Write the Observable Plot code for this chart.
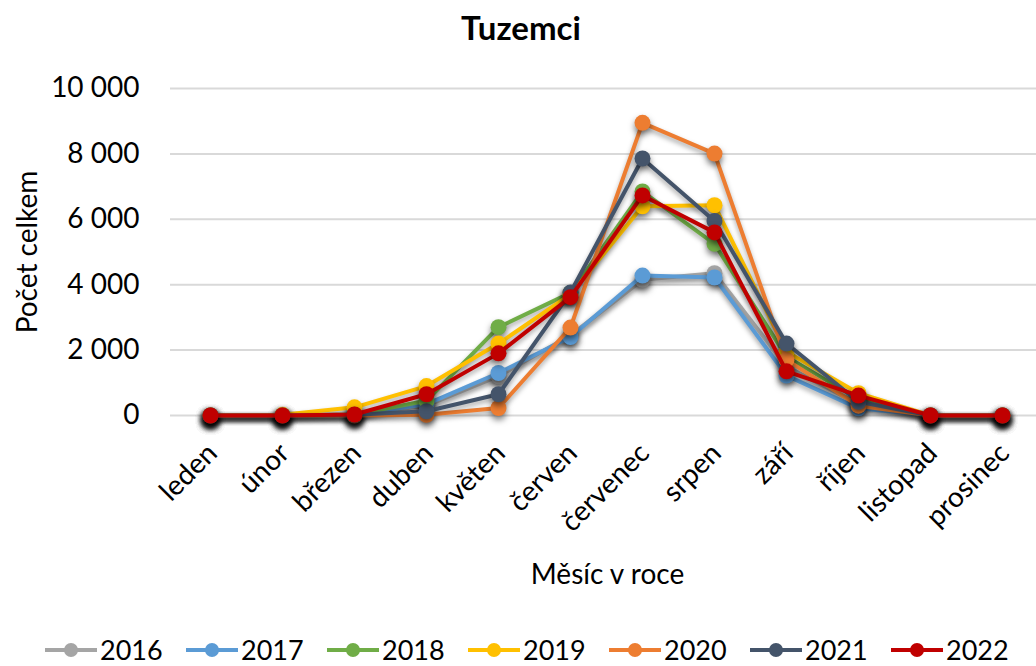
<!DOCTYPE html>
<html>
<head>
<meta charset="utf-8">
<script src="https://cdn.jsdelivr.net/npm/d3@7"></script>
<script src="https://cdn.jsdelivr.net/npm/@observablehq/plot@0.6"></script>
<style>
  html, body { margin: 0; padding: 0; background: #fff; }
  body { width: 1036px; height: 666px; position: relative; overflow: hidden; font-family: Lato, "Open Sans", sans-serif; color: #000; }
  #title { position: absolute; left: 3px; top: 11px; width: 1036px; text-align: center; font-weight: bold; font-size: 33px; line-height: 33px; }
  #chart { position: absolute; left: 0; top: 60px; }
  #chart svg g[aria-label="dot"] { filter: drop-shadow(0px 4px 3px rgba(0,0,0,0.5)); }
  #chart svg g[aria-label="line"] { filter: drop-shadow(0px 3px 2.5px rgba(0,0,0,0.35)); }
  #legend { position: absolute; left: 45px; top: 637px; width: 991px; height: 26px; display: flex; align-items: center; }
  .item { display: flex; align-items: center; flex: 0 0 auto; width: 141px; font-size: 27px; line-height: 26px; white-space: nowrap; }
  .item svg { margin-right: 3px; flex: 0 0 auto; }
</style>
</head>
<body>
<div id="title">Tuzemci</div>
<div id="chart"></div>
<div id="legend"></div>
<script>
const months = ["leden","únor","březen","duben","květen","červen","červenec","srpen","září","říjen","listopad","prosinec"];
const years = ["2016","2017","2018","2019","2020","2021","2022"];
const v2016 = [0, 0, 20, 300, 1200, 2450, 4150, 4350, 1500, 350, 0, 0];
const v2017 = [0, 0, 10, 350, 1300, 2400, 4280, 4220, 1220, 220, 0, 0];
const v2018 = [0, 0, 30, 450, 2700, 3750, 6850, 5250, 1800, 500, 0, 0];
const v2019 = [0, 20, 250, 900, 2200, 3700, 6400, 6430, 1950, 680, 0, 0];
const v2020 = [0, 0, 0, 20, 230, 2690, 8950, 8010, 1700, 300, 0, 0];
const v2021 = [0, 0, 20, 130, 650, 3760, 7860, 5950, 2200, 420, 0, 0];
const v2022 = [0, 0, 30, 650, 1900, 3620, 6730, 5600, 1350, 610, 0, 0];
const yTicks = [0, 2000, 4000, 6000, 8000, 10000];
const colors = ["#A5A5A5","#5B9BD5","#70AD47","#FFC000","#ED7D31","#44546A","#C00000"];
const yLabel = "Počet celkem";
const xLabel = "Měsíc v roce";

const allValues = [v2016, v2017, v2018, v2019, v2020, v2021, v2022];
const seriesData = years.map((yr, i) => months.map((m, j) => ({month: m, value: allValues[i][j], year: yr})));

const fmt = d3.formatLocale({decimal: ",", thousands: "\u00a0", grouping: [3], currency: ["", ""]}).format(",");

const marks = [
  Plot.gridY(yTicks, {stroke: "#d9d9d9", strokeOpacity: 1, strokeWidth: 2}),
  Plot.axisY(yTicks, {tickSize: 0, tickPadding: 31, tickFormat: d => fmt(d), fontSize: 28, label: null}),
  Plot.axisX({tickSize: 0, tickPadding: 33, tickRotate: -45, fontSize: 28, label: null, dx: 2}),
  Plot.text([yLabel], {frameAnchor: "left", text: d => d, rotate: -90, dx: -142, fontSize: 28, textAnchor: "middle", lineAnchor: "middle"}),
  Plot.text([xLabel], {frameAnchor: "bottom", text: d => d, dx: 4, dy: 160, fontSize: 28, textAnchor: "middle", lineAnchor: "middle"})
];
seriesData.forEach((data, i) => {
  marks.push(Plot.line(data, {x: "month", y: "value", stroke: colors[i], strokeWidth: 4, curve: "linear"}));
  marks.push(Plot.dot(data, {x: "month", y: "value", fill: colors[i], r: 8}));
});

const chart = Plot.plot({
  width: 1036,
  height: 540,
  marginLeft: 170,
  marginRight: 0,
  marginTop: 28,
  marginBottom: 185,
  style: {fontFamily: "Lato, 'Open Sans', sans-serif", fontSize: "28px", color: "#000", background: "#fff"},
  x: {type: "point", domain: months, range: [206, 1005], padding: 0},
  y: {domain: [0, 10000]},
  marks
});
document.getElementById("chart").appendChild(chart);

const legend = document.getElementById("legend");
years.forEach((yr, i) => {
  const item = document.createElement("div");
  item.className = "item";
  item.innerHTML = `<svg width="52" height="20" viewBox="0 0 52 20"><line x1="0" y1="10" x2="52" y2="10" stroke="${colors[i]}" stroke-width="4"/><circle cx="26" cy="10" r="7" fill="${colors[i]}"/></svg><span>${yr}</span>`;
  legend.appendChild(item);
});
</script>
</body>
</html>
